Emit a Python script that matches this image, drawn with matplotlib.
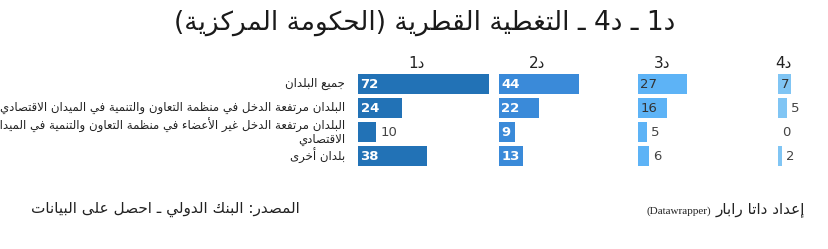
import matplotlib
matplotlib.use("Agg")
import matplotlib.pyplot as plt

# ---- data -------------------------------------------------------------
title = "د1 ـ د4 ـ التغطية القطرية (الحكومة المركزية)"
columns = ["د1", "د2", "د3", "د4"]
categories = [
    "جميع البلدان",
    "البلدان مرتفعة الدخل في منظمة التعاون والتنمية في الميدان الاقتصادي",
    "البلدان مرتفعة الدخل غير الأعضاء في منظمة التعاون والتنمية في الميدان\nالاقتصادي",
    "بلدان أخرى",
]
d1 = [72, 24, 10, 38]
d2 = [44, 22, 9, 13]
d3 = [27, 16, 5, 6]
d4 = [7, 5, 0, 2]
source = "المصدر: البنك الدولي ـ احصل على البيانات"
credit_ar = "إعداد داتا رابار"
credit_en = "(Datawrapper)"

colors = ["#2272b6", "#3a8ad9", "#5db3f6", "#80c5f4"]
label_colors = ["white", "white", "#333333", "#333333"]
label_bold = [True, True, False, False]

# ---- minimal arabic shaping + bidi (matplotlib has none) -------------
DUAL = {'ئ': 0xFE89, 'ب': 0xFE8F, 'ت': 0xFE95, 'ث': 0xFE99, 'ج': 0xFE9D,
        'ح': 0xFEA1, 'خ': 0xFEA5, 'س': 0xFEB1, 'ش': 0xFEB5, 'ص': 0xFEB9,
        'ض': 0xFEBD, 'ط': 0xFEC1, 'ظ': 0xFEC5, 'ع': 0xFEC9, 'غ': 0xFECD,
        'ف': 0xFED1, 'ق': 0xFED5, 'ك': 0xFED9, 'ل': 0xFEDD, 'م': 0xFEE1,
        'ن': 0xFEE5, 'ه': 0xFEE9, 'ي': 0xFEF1}
RIGHT = {'آ': 0xFE81, 'أ': 0xFE83, 'ؤ': 0xFE85, 'إ': 0xFE87, 'ا': 0xFE8D,
         'ة': 0xFE93, 'د': 0xFEA9, 'ذ': 0xFEAB, 'ر': 0xFEAD, 'ز': 0xFEAF,
         'و': 0xFEED, 'ى': 0xFEEF}
LAMALEF = {'آ': 0xFEF5, 'أ': 0xFEF7, 'إ': 0xFEF9, 'ا': 0xFEFB}
TATWEEL = 'ـ'


def joins_next(c):
    return c in DUAL or c == TATWEEL


def joining(c):
    return c in DUAL or c in RIGHT or c == TATWEEL


def shape(s):
    out = []
    i = 0
    n = len(s)
    while i < n:
        c = s[i]
        prev = s[i - 1] if i > 0 else ''
        nxt = s[i + 1] if i + 1 < n else ''
        left = i > 0 and joins_next(prev) and joining(c)
        if c == 'ل' and nxt in LAMALEF:
            out.append(chr(LAMALEF[nxt] + (1 if left else 0)))
            i += 2
            continue
        right = (c in DUAL or c == TATWEEL) and joining(nxt)
        if c in DUAL:
            b = DUAL[c]
            out.append(chr(b + (3 if left and right else 1 if left else 2 if right else 0)))
        elif c in RIGHT:
            out.append(chr(RIGHT[c] + (1 if left else 0)))
        else:
            out.append(c)
        i += 1
    return ''.join(out)


def is_ltr(c):
    return c.isascii() and c.isalnum()


def ar(s):
    lines = []
    for line in s.split('\n'):
        shaped = shape(line)
        runs = []
        for c in shaped:
            kind = is_ltr(c)
            if runs and runs[-1][0] == kind:
                runs[-1][1].append(c)
            else:
                runs.append((kind, [c]))
        vis = []
        mirror = {'(': ')', ')': '('}
        for kind, chars in reversed(runs):
            if kind:
                vis.append(''.join(chars))
            else:
                vis.append(''.join(mirror.get(c, c) for c in reversed(chars)))
        lines.append(''.join(vis))
    return '\n'.join(lines)


# ---- figure -------------------------------------------------------------
W, H = 829, 249
fig = plt.figure(figsize=(W / 100, H / 100), dpi=100)
plt.rcParams['font.family'] = ['DejaVu Sans']

fig.text(425 / W, 1 - 23 / H, ar(title), ha='center', va='center',
         fontsize=19, color='#1a1a1a')

series = [d1, d2, d3, d4]
panel_x = [358, 499, 638, 778]
header_x = [417, 537, 662, 783]
panel_w = 131
vmax = 72
top, bottom = 72, 168
ypos = list(range(len(categories)))

for k, vals in enumerate(series):
    ax = fig.add_axes([panel_x[k] / W, 1 - bottom / H, panel_w / W, (bottom - top) / H])
    ax.barh(ypos, vals, height=20 / 24, color=colors[k])
    ax.set_xlim(0, vmax)
    ax.set_ylim(len(categories) - 0.5, -0.5)
    ax.axis('off')
    px = panel_w / vmax
    for y, v in zip(ypos, vals):
        if v * px >= len(str(v)) * 7 + 5:
            ax.text(2.5 / px, y, str(v), ha='left', va='center', fontsize=9.5,
                    color=label_colors[k],
                    fontweight='bold' if label_bold[k] else 'normal')
        else:
            ax.text(v + 4 / px, y, str(v), ha='left', va='center', fontsize=9.5,
                    color='#444444')
    fig.text(header_x[k] / W, 1 - 63 / H, ar(columns[k]), ha='center',
             va='center', fontsize=11, color='#222222')

    if k == 0:
        for y, lab in zip(ypos, categories):
            ax.text(-13 / px, y, ar(lab), ha='right', va='center', fontsize=8.5,
                    color='#222222', linespacing=0.95, multialignment='right')

fig.text(300 / W, 1 - 209 / H, ar(source), ha='right', va='center',
         fontsize=11, color='#222222')
fig.text(805 / W, 1 - 209 / H, ar(credit_ar), ha='right', va='center',
         fontsize=11, color='#222222')
fig.text(711 / W, 1 - 211 / H, credit_en, ha='right', va='center',
         fontsize=8, color='#222222', family=['Liberation Serif', 'DejaVu Serif'])

fig.savefig('out.png', dpi=100)
